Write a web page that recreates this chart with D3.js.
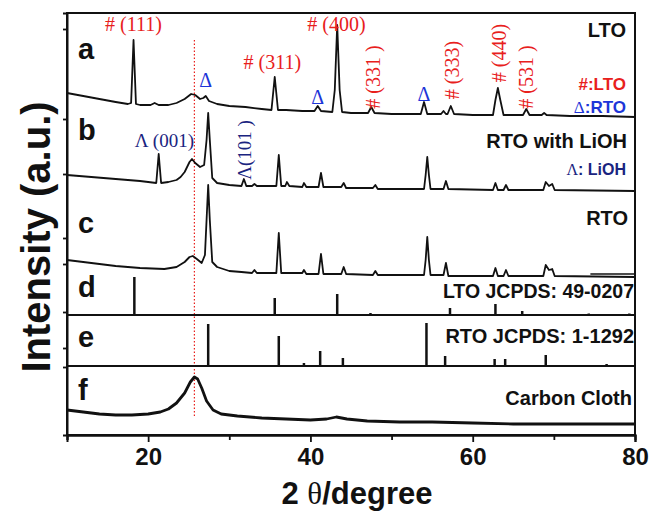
<!DOCTYPE html>
<html>
<head>
<meta charset="utf-8">
<script src="https://cdn.jsdelivr.net/npm/d3@7"></script>
<style>
  body { margin: 0; background: #fff; }
  svg { display: block; }
  .sans { font-family: "Liberation Sans", Arial, sans-serif; font-weight: bold; }
  .serif { font-family: "Liberation Serif", "Times New Roman", serif; }
</style>
</head>
<body>
<script>
// XRD patterns, [2theta, intensity a.u.]
const traceA = [[10,342],[12,339],[14,336],[16,333],[17.5,331],[17.9,332],[18.2,395],[18.5,331],[19,330],[20.3,330],[20.8,332],[21.3,330],[22.5,330],[23.5,332],[24.5,336],[25.3,341],[25.8,340],[26.4,336],[26.8,337],[27.1,339],[27.5,334],[28.5,331],[30,329],[32,328],[34,326],[35.2,325],[35.6,358],[36.0,325],[37,325],[39,324],[40.5,324],[40.9,329],[41.3,324],[42.7,323],[43.0,345],[43.3,410],[43.6,345],[43.9,323],[45,322],[47.1,322],[47.5,328],[47.9,322],[50,321],[53.6,321],[54.0,333],[54.4,321],[56.1,321],[56.4,324],[56.7,321],[56.9,321],[57.3,329],[57.7,321],[60,320],[62.5,320],[62.8,335],[63.1,347],[63.4,335],[63.8,320],[66.2,320],[66.6,326],[67.0,320],[68.5,320],[68.8,322],[69.1,320],[72,319],[76,319],[80,318]];
const traceB = [[10,260],[13,258],[16,256],[19,254],[21.0,252],[21.3,281],[21.6,252],[22.5,253],[23.5,255],[24.0,258],[24.5,263],[25.1,273],[25.4,276],[25.8,272],[26.4,268],[26.9,270],[27.2,295],[27.4,322],[27.6,295],[27.9,257],[28.5,252],[30,250],[31.5,249],[31.8,256],[32.1,249],[32.8,249],[33.1,251],[33.4,249],[35.8,249],[36.1,280],[36.4,249],[36.9,249],[37.1,253],[37.4,249],[39.0,248],[39.2,252],[39.5,248],[41.0,248],[41.3,262],[41.6,248],[43.8,248],[44.1,252],[44.4,247],[47.7,247],[48.0,250],[48.3,246],[54.0,246],[54.2,260],[54.4,278],[54.6,260],[54.8,246],[56.4,246],[56.7,254],[57.0,246],[62.5,245],[62.8,252],[63.1,245],[63.8,245],[64.1,250],[64.4,245],[68.7,245],[69.0,253],[69.4,249],[69.8,251],[70.1,245],[80,244]];
const traceC = [[10,175],[13,172],[16,169],[19,167],[22,166],[23.5,168],[24.5,173],[25.1,178],[25.5,179],[26.0,176],[26.6,172],[27.0,180],[27.2,215],[27.4,250],[27.6,215],[27.9,173],[28.5,168],[30,164],[31.5,163],[32.8,162],[33.1,165],[33.4,162],[35.8,162],[36.1,202],[36.4,162],[39.0,162],[39.2,165],[39.5,161],[41.0,161],[41.3,181],[41.6,161],[43.8,161],[44.1,168],[44.4,161],[47.7,160],[48.0,164],[48.3,160],[54.0,160],[54.2,175],[54.4,198],[54.6,175],[54.8,160],[56.4,160],[56.7,172],[57.0,159],[62.5,159],[62.8,167],[63.1,159],[63.8,159],[64.1,165],[64.4,159],[68.7,159],[69.0,170],[69.4,165],[69.8,166],[70.1,159],[80,158]];
const traceF = [[10,25],[12,23],[14,21],[16,20],[18,20],[20,21],[21.5,23],[22.5,26],[23.5,32],[24.5,42],[25.2,53],[25.7,58],[26.1,56],[26.6,47],[27.2,34],[28,25],[29,21],[31,19],[34,17],[37,16],[40,15],[42,16],[43.2,18],[44.5,16],[47,14],[51,13],[55,13],[60,12],[65,11],[70,11],[75,11],[80,11]];

// reference sticks [2theta, height]
const baseD = 120, baseE = 69;
const sticksD = [[18.3,38],[35.6,17],[43.3,21],[47.4,2],[57.2,7],[62.8,11],[66.1,4],[74.3,1.5],[79.3,1.5]];
const sticksE = [[27.4,42],[36.1,30],[39.2,3],[41.2,15],[44.0,8],[54.3,43],[56.6,10],[62.7,7],[64.0,7],[69.0,11],[76.5,2]];

const xMajor = [20, 40, 60, 80];
const xMinor = [10, 30, 50, 70];
const yTicks = [406, 316, 261, 197, 171, 123, 87, 68];

// peak labels [text, 2theta, a.u.]
const lblHash = [["# (111)",18.2,404],["# (311)",35.3,366],["# (400)",43.2,404]];
const lblHashRot = [["# (331 )",47.7,358],["# (333)",57.4,365],["# (440)",63.2,382],["# (531 )",66.6,358]];
const lblDelta = [[27.1,348],[40.9,331],[54.0,334]];

const W = 652, H = 512;
const margin = { top: 13, right: 17, bottom: 77, left: 67 };

const svg = d3.select("body").append("svg")
  .attr("width", W).attr("height", H);

const x = d3.scaleLinear().domain([10, 80]).range([margin.left, W - margin.right]);
const y = d3.scaleLinear().domain([0, 422]).range([H - margin.bottom, margin.top]);

const line = d3.line().x(d => x(d[0])).y(d => y(d[1]));

const red = "#e8201c", blue = "#1d35d8", navy = "#1a2480";

// dotted reference line
svg.append("line")
  .attr("x1", x(25.7)).attr("x2", x(25.7))
  .attr("y1", y(395)).attr("y2", y(18))
  .attr("stroke", red).attr("stroke-width", 1.2)
  .attr("stroke-dasharray", "1.5,2");

[traceA, traceB, traceC].forEach(t => {
  svg.append("path").datum(t)
    .attr("d", line)
    .attr("fill", "none").attr("stroke", "#111")
    .attr("stroke-width", 1.8).attr("stroke-linejoin", "round");
});
svg.append("path").datum(traceF)
  .attr("d", line)
  .attr("fill", "none").attr("stroke", "#111")
  .attr("stroke-width", 2.8).attr("stroke-linejoin", "round");

function sticks(data, base) {
  svg.append("g").selectAll("line").data(data).enter().append("line")
    .attr("x1", d => x(d[0])).attr("x2", d => x(d[0]))
    .attr("y1", y(base)).attr("y2", d => y(base + d[1]))
    .attr("stroke", "#111").attr("stroke-width", 2.5);
}
sticks(sticksD, baseD);
sticks(sticksE, baseE);

// frame and panel dividers
svg.append("rect")
  .attr("x", x(10)).attr("y", y(422))
  .attr("width", x(80) - x(10)).attr("height", y(0) - y(422))
  .attr("fill", "none").attr("stroke", "#111").attr("stroke-width", 2);
[baseD, baseE].forEach(b => {
  svg.append("line")
    .attr("x1", x(10)).attr("x2", x(80))
    .attr("y1", y(b)).attr("y2", y(b))
    .attr("stroke", "#111").attr("stroke-width", 2);
});
svg.append("line")
  .attr("x1", x(74.5)).attr("x2", x(80))
  .attr("y1", y(161)).attr("y2", y(161))
  .attr("stroke", "#111").attr("stroke-width", 1.5);

// axes
const gx = svg.append("g").attr("transform", `translate(0,${y(0)})`)
  .call(d3.axisBottom(x).tickValues(xMajor).tickSize(7).tickPadding(6));
const gx2 = svg.append("g").attr("transform", `translate(0,${y(0)})`)
  .call(d3.axisBottom(x).tickValues(xMinor).tickSize(5).tickFormat(""));
const gy = svg.append("g").attr("transform", `translate(${x(10)},0)`)
  .call(d3.axisLeft(y).tickValues(yTicks).tickSize(4).tickFormat(""));
[gx, gx2, gy].forEach(g => {
  g.select(".domain").attr("stroke", "#111").attr("stroke-width", 2);
  g.selectAll(".tick line").attr("stroke", "#111").attr("stroke-width", 1.8);
});
gx.selectAll(".tick text")
  .attr("class", "sans").attr("font-size", 24).attr("fill", "#111");

svg.append("text").attr("class", "sans")
  .attr("x", 357).attr("y", 504)
  .attr("text-anchor", "middle").attr("font-size", 31).attr("fill", "#111")
  .call(t => {
    t.append("tspan").text("2 ");
    t.append("tspan").attr("class", "serif").attr("font-weight", "normal").text("θ");
    t.append("tspan").text("/degree");
  });

svg.append("text").attr("class", "sans")
  .attr("transform", "translate(50,237) rotate(-90)")
  .attr("text-anchor", "middle").attr("font-size", 40).attr("fill", "#111")
  .text("Intensity (a.u.)");

// panel letters
const letters = [["a",59],["b",140],["c",233],["d",297],["e",347],["f",400]];
svg.append("g").selectAll("text").data(letters).enter().append("text")
  .attr("class", "sans").attr("x", 78).attr("y", d => d[1])
  .attr("font-size", 29).attr("fill", "#111").text(d => d[0]);

// peak annotations
svg.append("g").selectAll("text").data(lblHash).enter().append("text")
  .attr("class", "serif").attr("x", d => x(d[1])).attr("y", d => y(d[2]))
  .attr("text-anchor", "middle").attr("font-size", 20).attr("fill", red)
  .text(d => d[0]);
svg.append("g").selectAll("text").data(lblHashRot).enter().append("text")
  .attr("class", "serif")
  .attr("transform", d => `translate(${x(d[1])},${y(d[2])}) rotate(-90)`)
  .attr("dy", "0.35em")
  .attr("text-anchor", "middle").attr("font-size", 20).attr("fill", red)
  .text(d => d[0]);
svg.append("g").selectAll("text").data(lblDelta).enter().append("text")
  .attr("class", "serif").attr("x", d => x(d[0])).attr("y", d => y(d[1]))
  .attr("text-anchor", "middle").attr("font-size", 20).attr("fill", blue)
  .text("Δ");

svg.append("text").attr("class", "serif")
  .attr("x", x(22.0)).attr("y", y(288))
  .attr("text-anchor", "middle").attr("font-size", 19).attr("fill", navy)
  .text("Λ (001)");
svg.append("text").attr("class", "serif")
  .attr("transform", `translate(${x(31.9)},${y(285)}) rotate(-90)`)
  .attr("dy", "0.35em")
  .attr("text-anchor", "middle").attr("font-size", 19).attr("fill", navy)
  .text("Λ(101 )");

// sample labels on the right
const right = x(80);
function rlabel(txt, dx, yy, size, color) {
  return svg.append("text").attr("class", "sans")
    .attr("x", right - dx).attr("y", yy)
    .attr("text-anchor", "end").attr("font-size", size).attr("fill", color)
    .text(txt);
}
rlabel("LTO", 9, 37, 20, "#111");
rlabel("#:LTO", 9, 90, 17, red);
svg.append("text").attr("class", "sans")
  .attr("x", right - 9).attr("y", 113)
  .attr("text-anchor", "end").attr("font-size", 17).attr("fill", blue)
  .call(t => {
    t.append("tspan").attr("class", "serif").attr("font-weight", "normal").text("Δ");
    t.append("tspan").text(":RTO");
  });
rlabel("RTO with LiOH", 8, 148, 20, "#111");
svg.append("text").attr("class", "sans")
  .attr("x", right - 9).attr("y", 175)
  .attr("text-anchor", "end").attr("font-size", 16).attr("fill", navy)
  .call(t => {
    t.append("tspan").attr("class", "serif").attr("font-weight", "normal").text("Λ");
    t.append("tspan").text(": LiOH");
  });
rlabel("RTO", 7, 225, 20, "#111");
rlabel("LTO JCPDS: 49-0207", 1, 298, 19.5, "#111");
rlabel("RTO JCPDS: 1-1292", 1, 343, 20, "#111");
rlabel("Carbon Cloth", 3, 405, 20, "#111");
</script>
</body>
</html>
